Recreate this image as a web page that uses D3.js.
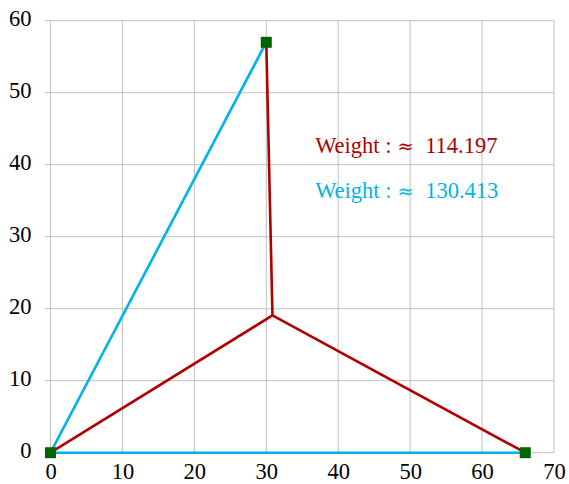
<!DOCTYPE html>
<html><head><meta charset="utf-8">
<script src="https://cdn.jsdelivr.net/npm/d3@7"></script>
<style>body{margin:0;background:#fff}svg{display:block}</style>
</head><body><svg id="c" width="569" height="484"></svg>
<script>
const xTicks = [0,10,20,30,40,50,60,70];
const yTicks = [0,10,20,30,40,50,60];
const terminals = [[0,0],[30,57],[66,0]];
const steinerPoint = [30.86,19.06];
const blueEdges = [[[0,0],[30,57]],[[0,0],[66,0]]];
const redEdges = [[[0,0],[30.86,19.06]],[[30,57],[30.86,19.06]],[[66,0],[30.86,19.06]]];
const labels = [
  {pre:"Weight : ", sym:"\u2248", num:"114.197", color:"#b00000", x:36.8, y:41.6},
  {pre:"Weight : ", sym:"\u2248", num:"130.413", color:"#00b4e6", x:36.8, y:35.4}
];

const svg = d3.select("#c");
const x = d3.scaleLinear().domain([0,70]).range([50.5,554]);
const y = d3.scaleLinear().domain([0,60]).range([452.7,20.7]);
const font = "'Liberation Serif','Times New Roman',serif";

const g = svg.append("g");
g.selectAll(".vg").data(xTicks).join("line")
  .attr("x1",d=>x(d)).attr("x2",d=>x(d)).attr("y1",y(60)).attr("y2",y(0))
  .attr("stroke","#c0c0c0").attr("stroke-width",1);
g.selectAll(".hg").data(yTicks).join("line")
  .attr("x1",x(0)-6).attr("x2",x(70)).attr("y1",d=>y(d)).attr("y2",d=>y(d))
  .attr("stroke","#c0c0c0").attr("stroke-width",1);

const xa = d3.axisBottom(x).tickValues(xTicks).tickSize(0).tickPadding(10);
svg.append("g").attr("transform",`translate(0,${y(0)})`).call(xa)
  .call(s=>s.select(".domain").remove())
  .selectAll("text").attr("font-family",font).attr("font-size",22.5).attr("fill","#000");
const ya = d3.axisLeft(y).tickValues(yTicks).tickSize(0).tickPadding(19);
svg.append("g").attr("transform",`translate(${x(0)},0)`).call(ya)
  .call(s=>s.select(".domain").remove())
  .selectAll("text").attr("font-family",font).attr("font-size",22.5).attr("fill","#000").attr("dy","0.2em");

const line = d3.line().x(d=>x(d[0])).y(d=>y(d[1]));
svg.selectAll(".be").data(blueEdges).join("path")
  .attr("d",line).attr("fill","none").attr("stroke","#00b4e6").attr("stroke-width",2.6);
svg.selectAll(".re").data(redEdges).join("path")
  .attr("d",line).attr("fill","none").attr("stroke","#b00000").attr("stroke-width",2.6)
  .attr("stroke-linejoin","round");
svg.selectAll(".tp").data(terminals).join("rect")
  .attr("x",d=>x(d[0])-5.5).attr("y",d=>y(d[1])-5.5).attr("width",11).attr("height",11)
  .attr("fill","#006400");

const t = svg.selectAll(".lbl").data(labels).join("text")
  .attr("x",d=>x(d.x)).attr("y",d=>y(d.y)).attr("fill",d=>d.color)
  .attr("font-family",font).attr("font-size",22.5).style("white-space","pre");
t.append("tspan").text(d=>d.pre);
t.append("tspan").attr("font-family","'DejaVu Serif',serif").attr("font-size",20).text(d=>d.sym);
t.append("tspan").text(d=>"  "+d.num);
</script></body></html>
